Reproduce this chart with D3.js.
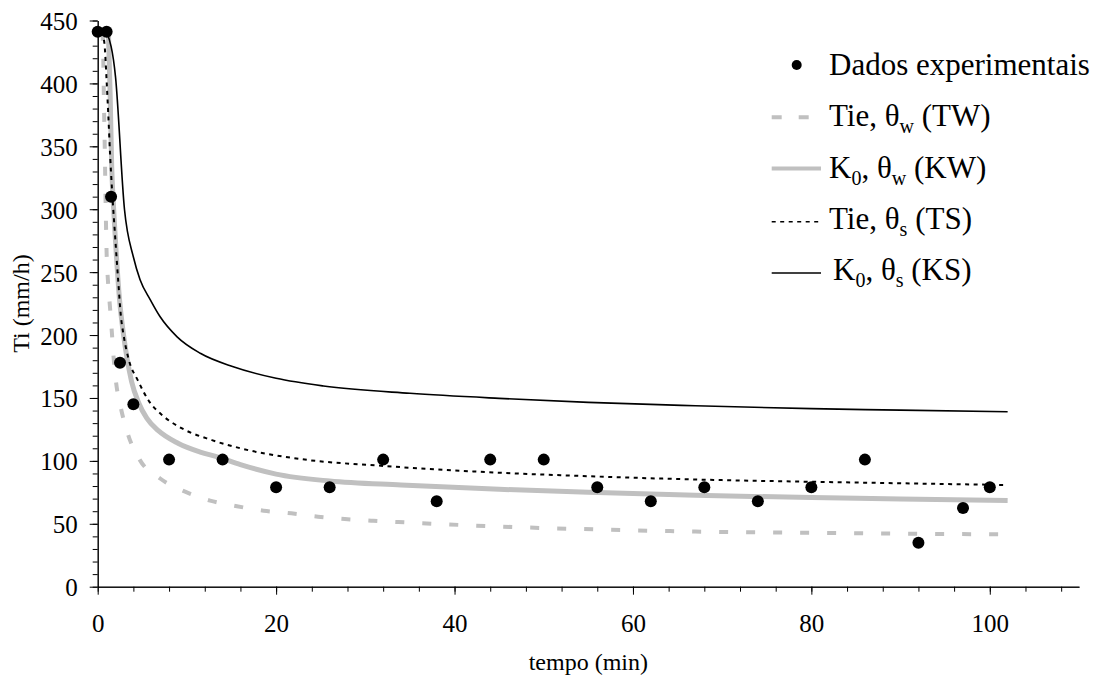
<!DOCTYPE html>
<html>
<head>
<meta charset="utf-8">
<script src="https://cdn.jsdelivr.net/npm/d3@7"></script>
<style>
  body { margin: 0; background: #fff; }
  svg, svg text { font-family: "Liberation Serif", "Times New Roman", serif !important; }
</style>
</head>
<body>
<div id="chart"></div>
<script>
// experimental points
const obsTime = [0, 1, 1.5, 2.5, 4, 8, 14, 20, 26, 32, 38, 44, 50, 56, 62, 68, 74, 80, 86, 92, 97, 100];
const obsRate = [441, 441, 310, 178, 145, 101, 101, 79, 79, 101, 68, 101, 101, 79, 68, 79, 68, 79, 101, 35, 62.5, 79];

// Tie, theta_w (TW)
const twTime = [0.55, 0.6, 0.7, 0.8, 0.9, 1.0, 1.15, 1.38, 1.57, 1.75, 2.05, 2.6, 3.4, 4.7, 7, 9.8, 12.6, 15.6, 18.6, 21.7, 24.7, 27.7, 30.9, 33.7, 45, 56, 67, 80, 90, 101];
const twRate = [441, 430, 385, 345, 300, 265, 243, 222, 204, 185, 163, 142, 121, 101, 86, 75.5, 68.4, 64, 60.4, 58.3, 55.6, 53.8, 52.4, 51.4, 47.8, 45.5, 43.8, 42.8, 42.2, 41.6];

// K0, theta_w (KW)
const kwTime = [1.2, 1.4, 1.57, 1.75, 1.95, 2.45, 2.9, 3.3, 3.8, 4.6, 5.5, 6.8, 9, 11.5, 13.5, 16, 20, 26, 34, 45, 55, 67, 80, 90, 102];
const kwRate = [441, 390, 334, 305, 280, 228, 200, 181, 163, 146, 134, 124, 114, 107, 103, 97, 89.5, 84, 80.8, 77.4, 75, 72.7, 70.8, 69.8, 68.6];

// Tie, theta_s (TS)
const tsTime = [0.5, 0.8, 1.0, 1.2, 1.4, 1.6, 1.9, 2.3, 2.6, 2.9, 3.5, 4.5, 5.7, 7.2, 9.4, 12.8, 16, 22.7, 32, 45, 55, 67, 80, 90, 102];
const tsRate = [441, 428, 402, 373, 342, 316, 284, 243, 215, 200, 180, 164, 148, 136.5, 126, 116.5, 110, 101.5, 96, 90.6, 87.8, 85.2, 83.4, 82.2, 80.8];

// K0, theta_s (KS)
const ksTime = [1, 2, 3, 4, 4.75, 5.9, 7, 8.9, 11.5, 15.2, 20, 25.3, 35, 45, 55, 67, 80, 90, 102];
const ksRate = [441, 405, 300, 262, 244, 228, 214.5, 198.6, 185.5, 174.8, 165.6, 159.5, 153.7, 149.7, 146.5, 143.8, 141.5, 140.3, 139];

const xMajor = [0, 20, 40, 60, 80, 100];
const yMajor = [0, 50, 100, 150, 200, 250, 300, 350, 400, 450];

const width = 1102;
const height = 682;
const margin = { top: 20.5, right: 23, bottom: 95.3, left: 97.7 };
const grey = "#c0c0c0";
const serif = "'Liberation Serif', 'Times New Roman', serif";

const svg = d3.select("#chart").append("svg")
  .attr("width", width)
  .attr("height", height);

svg.append("rect").attr("width", width).attr("height", height).attr("fill", "#fff");

const x = d3.scaleLinear().domain([0, 110]).range([margin.left, width - margin.right]);
const y = d3.scaleLinear().domain([0, 450]).range([height - margin.bottom, margin.top]);

// minor ticks first, then major ones with labels
svg.append("g")
  .attr("transform", `translate(0,${y(0)})`)
  .call(d3.axisBottom(x).tickValues(d3.range(0, 109, 4)).tickSize(5).tickSizeOuter(0).tickFormat(""));

svg.append("g")
  .attr("class", "xAxis")
  .attr("transform", `translate(0,${y(0)})`)
  .call(d3.axisBottom(x).tickValues(xMajor).tickSize(8).tickSizeOuter(0).tickPadding(20));

svg.append("g")
  .attr("transform", `translate(${x(0)},0)`)
  .call(d3.axisLeft(y).tickValues(d3.range(0, 451, 10)).tickSize(5).tickSizeOuter(0).tickFormat(""));

svg.append("g")
  .attr("class", "yAxis")
  .attr("transform", `translate(${x(0)},0)`)
  .call(d3.axisLeft(y).tickValues(yMajor).tickSize(8).tickSizeOuter(0).tickPadding(12));

svg.selectAll("g").attr("font-family", null);
svg.selectAll(".domain, .tick line").attr("stroke", "#000").attr("stroke-width", 1);
svg.selectAll(".tick text")
  .style("font-family", serif)
  .attr("font-size", 25)
  .attr("fill", "#000");
svg.select(".xAxis").selectAll(".tick text").attr("dy", "0.71em");
svg.select(".yAxis").selectAll(".tick text").attr("dy", "0.36em");

// axis titles
svg.append("text")
  .attr("x", (x(0) + x(110)) / 2)
  .attr("y", 670)
  .attr("text-anchor", "middle")
  .style("font-family", serif)
  .attr("font-size", 24)
  .attr("fill", "#000")
  .text("tempo (min)");

svg.append("text")
  .attr("transform", `translate(29,${(y(0) + y(450)) / 2}) rotate(-90)`)
  .attr("text-anchor", "middle")
  .style("font-family", serif)
  .attr("font-size", 24)
  .attr("fill", "#000")
  .text("Ti (mm/h)");

const series = [
  { time: twTime, rate: twRate, stroke: grey, width: 4, dash: "9,18" },
  { time: kwTime, rate: kwRate, stroke: grey, width: 5, dash: null },
  { time: tsTime, rate: tsRate, stroke: "#000", width: 2, dash: "4,4.5" },
  { time: ksTime, rate: ksRate, stroke: "#000", width: 1.6, dash: null }
];

const line = d3.line()
  .x(d => x(d[0]))
  .y(d => y(d[1]))
  .curve(d3.curveMonotoneX);

series.forEach(s => {
  svg.append("path")
    .datum(d3.zip(s.time, s.rate))
    .attr("d", line)
    .attr("fill", "none")
    .attr("stroke", s.stroke)
    .attr("stroke-width", s.width)
    .attr("stroke-dasharray", s.dash);
});

svg.selectAll("circle.obs")
  .data(d3.zip(obsTime, obsRate))
  .enter()
  .append("circle")
  .attr("class", "obs")
  .attr("cx", d => x(d[0]))
  .attr("cy", d => y(d[1]))
  .attr("r", 6)
  .attr("fill", "#000");

// legend
const legendRows = [
  [["Dados experimentais", false]],
  [["Tie, θ", false], ["w", true], [" (TW)", false]],
  [["K", false], ["0", true], [", θ", false], ["w", true], [" (KW)", false]],
  [["Tie, θ", false], ["s", true], [" (TS)", false]],
  [["K", false], ["0", true], [", θ", false], ["s", true], [" (KS)", false]]
];

const legend = svg.append("g");
const rowStep = 51.25;
const base0 = 75;

legendRows.forEach((parts, i) => {
  const by = base0 + i * rowStep;
  const t = legend.append("text")
    .attr("x", i === 4 ? 833 : 829)
    .attr("y", by)
    .style("font-family", serif)
    .attr("font-size", 31)
    .attr("fill", "#000");
  let shifted = false;
  parts.forEach(([txt, sub]) => {
    const sp = t.append("tspan").text(txt);
    if (sub && !shifted) { sp.attr("dy", 7).attr("font-size", 20); shifted = true; }
    else if (sub) sp.attr("font-size", 20);
    else if (shifted) { sp.attr("dy", -7); shifted = false; }
  });

  const my = by - 9;
  if (i === 0) {
    legend.append("circle").attr("cx", 796.7).attr("cy", by - 10).attr("r", 5).attr("fill", "#000");
  } else {
    const s = series[i - 1];
    legend.append("line")
      .attr("x1", 771.7).attr("x2", i === 1 ? 808.7 : 821)
      .attr("y1", i >= 3 ? by - 7 : my).attr("y2", i >= 3 ? by - 7 : my)
      .attr("stroke", s.stroke)
      .attr("stroke-width", i <= 2 ? 4 : 1.5)
      .attr("stroke-dasharray", i === 1 ? "10,17" : s.dash);
  }
});
</script>
</body>
</html>
